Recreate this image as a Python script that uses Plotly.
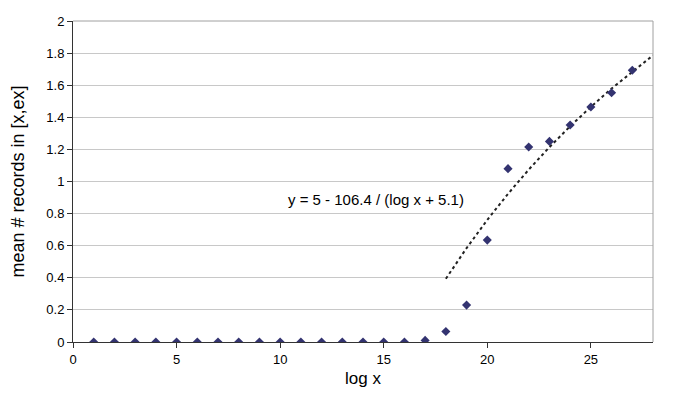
import plotly.graph_objects as go

log_x = list(range(1, 28))
mean_records = [0, 0, 0, 0, 0, 0, 0, 0, 0, 0, 0, 0, 0, 0, 0, 0,
                0.01, 0.065, 0.23, 0.635, 1.08, 1.215, 1.25, 1.352, 1.464, 1.553, 1.693]

trend_x = [18, 19, 20, 21, 22, 23, 24, 25, 26, 27, 28]
trend_y = [0.394, 0.585, 0.761, 0.923, 1.074, 1.214, 1.344, 1.465, 1.579, 1.685, 1.786]

x_ticks = [0, 5, 10, 15, 20, 25]
y_ticks = [0, 0.2, 0.4, 0.6, 0.8, 1, 1.2, 1.4, 1.6, 1.8, 2]

FONT = "Liberation Sans, Arial, sans-serif"

fig = go.Figure()
fig.add_trace(go.Scatter(x=trend_x, y=trend_y, mode="lines",
                         line=dict(color="#222222", width=2, dash="dot"),
                         hoverinfo="skip", showlegend=False))
fig.add_trace(go.Scatter(x=log_x, y=mean_records, mode="markers",
                         marker=dict(symbol="diamond", size=7, color="#333370"),
                         showlegend=False))

fig.add_annotation(x=10.3, y=0.885, xref="x", yref="y", xanchor="left", yanchor="middle",
                   text="y = 5 - 106.4 / (log x + 5.1)", showarrow=False,
                   font=dict(family=FONT, size=15, color="#000000"))

# top and right border
fig.add_shape(type="line", xref="paper", yref="paper", x0=0, x1=1, y0=1, y1=1,
              line=dict(color="#a0a0a0", width=1))
fig.add_shape(type="line", xref="paper", yref="paper", x0=1, x1=1, y0=0, y1=1,
              line=dict(color="#a0a0a0", width=1))

fig.update_layout(
    width=678, height=395,
    margin=dict(l=65, r=33, t=13, b=61),
    paper_bgcolor="white", plot_bgcolor="white",
    font=dict(family=FONT, size=13, color="#000000"),
    xaxis=dict(range=[0, 28], tickvals=x_ticks, showgrid=False, zeroline=False,
               showline=True, linecolor="#333333", linewidth=1, automargin=False,
               ticks="outside", ticklen=5, tickcolor="#333333",
               title=dict(text="log x", font=dict(size=17), standoff=6)),
    yaxis=dict(range=[0, 2], tickvals=y_ticks, ticktext=[str(v) for v in y_ticks],
               showgrid=True, gridcolor="#c8c8c8", zeroline=False, automargin=False,
               showline=True, linecolor="#333333", linewidth=1,
               ticks="outside", ticklen=5, tickcolor="#333333",
               title=dict(text="mean # records in [x,ex]", font=dict(size=18), standoff=20)),
)

fig.write_html("out.html")
